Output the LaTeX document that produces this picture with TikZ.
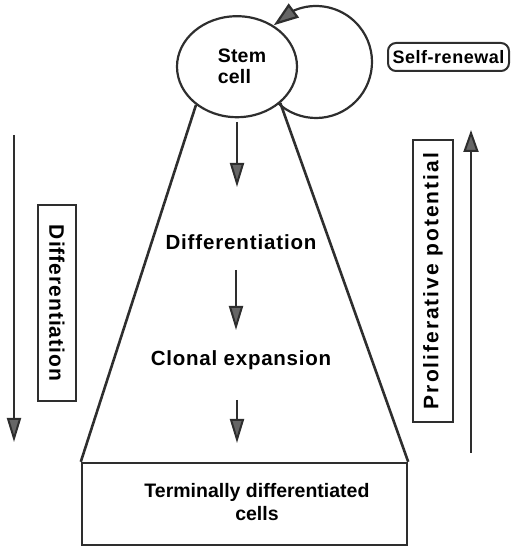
\documentclass[tikz,border=0pt]{standalone}
\usepackage{fontspec}
\setmainfont{Liberation Sans}
\usetikzlibrary{arrows.meta,shapes.geometric,bending}
\newcommand{\lblfont}[3]{\fontsize{#1}{#2}\selectfont\bfseries\addfontfeature{LetterSpace=#3}}
\begin{document}
\begin{tikzpicture}[x=1pt,y=1pt,
  ink/.style={draw=black!82},
  tipstyle/.style={-{Triangle[length=24pt,width=14pt,fill=black!60]}},
  flowarrow/.style={ink, line width=2pt, tipstyle},
  boxstyle/.style={draw=black!82, line width=2pt, inner sep=0pt}
]
\useasboundingbox (0,0) rectangle (511,547);

% self-renewal loop (drawn first, partly hidden by the stem cell)
\coordinate (loopstart) at (273.1,449);
\draw[ink, line width=2.2pt, -{Triangle[flex, length=25pt,width=17pt,fill=black!60]}]
  (loopstart) arc[start angle=220, end angle=499, radius=56];

% stem cell
\node[ellipse, draw=black!82, line width=2.2pt, fill=white,
      minimum width=120pt, minimum height=101pt, inner sep=0pt] (stem) at (237,480.3) {};
\node[align=left, inner sep=0pt, font=\lblfont{19.5}{21}{1}] (stemtext) at (242,480.3) {Stem\\cell};

% self-renewal label
\node[boxstyle, rounded corners=8pt, minimum width=121pt, minimum height=28pt,
      font=\lblfont{18}{18}{2.8}] (self) at (448.5,490) {Self-renewal};

% terminal box
\node[boxstyle, line width=2.4pt, minimum width=325pt, minimum height=82pt] (term) at (244.5,43) {};
\node[align=center, font=\lblfont{19.5}{22.7}{0}] (termtext) at (257,45)
  {Terminally differentiated\\cells};

% trapezoid sides
\draw[ink, line width=2.6pt] (stem.223.8) -- (term.north west);
\draw[ink, line width=2.6pt] (stem.320) -- (term.north east);

% middle labels
\node[anchor=base, font=\lblfont{20.5}{20.5}{4.2}] (diff) at (241,297) {Differentiation};
\node[anchor=base, font=\lblfont{20.5}{20.5}{3.7}] (clonal) at (241,181) {Clonal expansion};

% middle arrows
\coordinate (a1s) at (237,425); \coordinate (a1e) at (237,360);
\coordinate (a2s) at (236,277); \coordinate (a2e) at (236,217);
\coordinate (a3s) at (237,147); \coordinate (a3e) at (237,104);
\draw[flowarrow] (a1s) -- (a1e);
\draw[flowarrow] (a2s) -- (a2e);
\draw[flowarrow] (a3s) -- (a3e);

% left side
\coordinate (ls) at (14,412); \coordinate (le) at (14,105);
\draw[flowarrow] (ls) -- (le);
\node[boxstyle, rotate=-90, minimum width=196pt, minimum height=38pt,
      font=\lblfont{21}{21}{4.7}] (ldiff) at (57,244) {Differentiation};

% right side
\coordinate (rs) at (471,94); \coordinate (re) at (471,417);
\draw[ink, line width=2pt, -{Triangle[length=22pt,width=15pt,fill=black!60]}] (rs) -- (re);
\node[boxstyle, rotate=90, minimum width=282pt, minimum height=40pt,
      font=\lblfont{21}{21}{9.4}] (prolif) at (433,266) {Proliferative potential};
\end{tikzpicture}
\end{document}
